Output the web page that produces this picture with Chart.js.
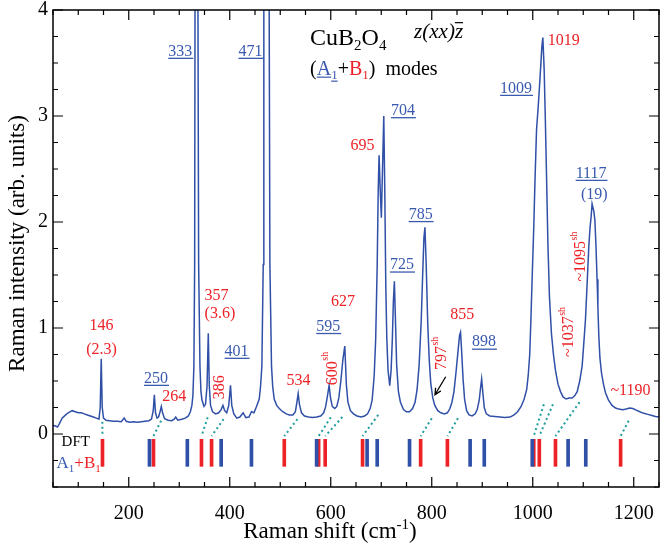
<!DOCTYPE html>
<html>
<head>
<meta charset="utf-8">
<script src="https://cdn.jsdelivr.net/npm/chart.js@4.4.1/dist/chart.umd.min.js"></script>
<style>
    body { margin: 0; background: #fff; }
    #wrap { width: 660px; height: 550px; }
</style>
</head>
<body>
<div id="wrap"><canvas id="ramanChart"></canvas></div>
<script>
// CuB2O4 Raman spectrum, z(xx)z geometry, with DFT mode positions

const ramanShift = [
    50, 55, 59, 63, 68, 75, 80, 88, 94, 100, 106, 112, 118, 124, 130, 136, 141, 143.5, 145.5, 147.5,
    150, 155, 162, 170, 178, 185, 191, 195, 202, 210, 218, 225, 232, 240, 245, 248.5, 250.7, 253, 256, 259,
    262, 264.5, 267, 271, 278, 285, 290, 293, 297, 305, 312, 318, 322, 325, 327, 329, 330.5, 331.5, 334, 336.5,
    338.4, 341, 343, 345, 349, 352, 355, 357.5, 359.5, 362, 366, 372, 378, 383, 386.5, 390, 394, 398, 401.5, 404,
    408, 414, 420, 426.5, 432, 438, 443, 448, 453, 458.4, 461, 463.6, 466.3, 467.5, 472.5, 477.5, 479.5, 482.7, 485, 488,
    493, 498, 505, 512, 518, 525, 530, 533, 535.5, 538, 542, 548, 556, 564, 572, 580, 586, 590, 593.5, 596.8,
    599.5, 603, 608, 612, 616, 620, 624, 627.8, 631, 634, 639, 645, 652, 660, 667, 673, 678, 682, 686, 689,
    692, 694, 695.7, 698, 700.2, 702.5, 705, 707, 709, 711, 713.5, 716.8, 719.5, 722, 724, 726, 728, 730.5, 734, 738,
    744, 750, 756, 762, 767, 771, 775, 779, 782, 784.5, 786.5, 789, 792, 795, 798, 802, 806, 812, 818, 825,
    831, 836, 840, 844, 848, 852, 855, 857, 859, 862, 865, 869, 874, 880, 886, 890, 894, 897, 898.8, 901,
    904, 908, 915, 925, 935, 945, 955, 963, 970, 977, 983, 988, 991, 994, 996.5, 999, 1002, 1004.5, 1007.5, 1010.7,
    1013, 1015.4, 1018, 1020, 1022.6, 1025, 1027, 1030, 1033, 1037, 1041, 1045, 1050, 1055, 1060, 1066, 1072, 1078, 1083, 1088,
    1093, 1097.8, 1101, 1104.4, 1108, 1111, 1113.5, 1115.6, 1117.5, 1119, 1121, 1123, 1125, 1127.4, 1129, 1130.8, 1133, 1136, 1140, 1144,
    1150, 1157, 1164, 1170, 1178, 1185, 1192, 1198, 1205, 1212, 1220, 1228, 1236, 1243, 1250
];
const intensity = [
    0.08, 0.075, 0.065, 0.1, 0.15, 0.18, 0.2, 0.22, 0.21, 0.2, 0.2, 0.19, 0.18, 0.17, 0.16, 0.15, 0.14, 0.25, 0.71, 0.25,
    0.15, 0.13, 0.125, 0.12, 0.12, 0.115, 0.15, 0.12, 0.11, 0.115, 0.11, 0.115, 0.12, 0.125, 0.14, 0.22, 0.37, 0.2, 0.15, 0.16,
    0.21, 0.26, 0.2, 0.145, 0.13, 0.125, 0.14, 0.16, 0.13, 0.14, 0.15, 0.17, 0.21, 0.27, 0.36, 0.64, 1.6, 5, 9, 5,
    1.6, 0.64, 0.4, 0.32, 0.26, 0.28, 0.45, 0.95, 0.45, 0.27, 0.21, 0.19, 0.2, 0.23, 0.27, 0.22, 0.2, 0.27, 0.46, 0.27,
    0.19, 0.15, 0.16, 0.2, 0.155, 0.16, 0.21, 0.2, 0.26, 0.33, 0.45, 0.64, 1.6, 5, 9, 5, 1.6, 0.64, 0.45, 0.33,
    0.27, 0.24, 0.21, 0.19, 0.18, 0.18, 0.21, 0.3, 0.38, 0.28, 0.2, 0.17, 0.16, 0.155, 0.16, 0.17, 0.2, 0.26, 0.36, 0.46,
    0.34, 0.26, 0.24, 0.26, 0.34, 0.5, 0.7, 0.83, 0.46, 0.3, 0.22, 0.19, 0.17, 0.16, 0.17, 0.19, 0.24, 0.32, 0.55, 0.9,
    1.6, 2.3, 2.63, 2.3, 2.04, 2.5, 3.0, 2.3, 1.4, 0.9, 0.6, 0.455, 0.6, 0.9, 1.25, 1.44, 1.1, 0.65, 0.4, 0.3,
    0.23, 0.21, 0.21, 0.24, 0.3, 0.42, 0.65, 1.05, 1.5, 1.85, 1.95, 1.6, 1.05, 0.7, 0.48, 0.34, 0.27, 0.22, 0.2, 0.19,
    0.2, 0.24, 0.3, 0.4, 0.58, 0.78, 0.93, 0.96, 0.8, 0.52, 0.33, 0.22, 0.18, 0.17, 0.19, 0.23, 0.32, 0.45, 0.52, 0.4,
    0.25, 0.19, 0.17, 0.165, 0.16, 0.155, 0.16, 0.18, 0.21, 0.26, 0.33, 0.42, 0.55, 0.75, 1.1, 1.5, 1.95, 2.4, 2.87, 3.08,
    3.25, 3.44, 3.65, 3.74, 3.44, 2.95, 2.5, 1.8, 1.3, 0.95, 0.75, 0.6, 0.47, 0.4, 0.35, 0.33, 0.34, 0.34, 0.36, 0.4,
    0.5, 0.64, 0.85, 1.08, 1.45, 1.77, 1.95, 2.05, 2.17, 2.17, 2.1, 2.02, 1.8, 1.46, 1.2, 0.93, 0.72, 0.58, 0.47, 0.39,
    0.32, 0.27, 0.245, 0.235, 0.23, 0.235, 0.245, 0.24, 0.225, 0.21, 0.195, 0.185, 0.175, 0.165, 0.16
];

// DFT-calculated mode positions (cm-1)
const dftA1 = [241, 316, 383, 443, 572, 672, 692, 756, 876, 904, 999, 1070, 1105];
const dftB1 = [148, 249, 344, 364, 508, 576, 589, 663, 778, 831, 1002, 1013, 1045, 1174];
const dftBarRange = [-0.305, -0.05];

// dotted links: observed line -> DFT mode
const linkObserved = [147.7, 264, 356.4, 387.8, 534, 600, 623, 694, 800, 852, 1022, 1040, 1092.6, 1190];
const linkTop = [0.115, 0.125, 0.157, 0.14, 0.14, 0.157, 0.16, 0.18, 0.148, 0.148, 0.28, 0.28, 0.3, 0.125];
const linkDft = [148, 249, 344, 364, 508, 576, 589, 663, 778, 831, 1002, 1013, 1045, 1174];
const linkBottom = -0.02;

const xTickLabels = [200, 400, 600, 800, 1000, 1200];
const yTickLabels = [0, 1, 2, 3, 4];

const SERIF = "'Liberation Serif', 'Times New Roman', serif";
const CURVE_BLUE = '#3050a8';
const LABEL_BLUE = '#3a5ab0';
const RED = '#ec2227';
const TEAL = '#1f9c9c';

// peak labels, placed at (cm-1, intensity)
const peakLabels = [
    { text: '146', x: 146, y: 1.02, color: RED },
    { text: '(2.3)', x: 146, y: 0.79, color: RED },
    { text: '250', x: 254, y: 0.525, color: LABEL_BLUE, underline: true },
    { text: '264', x: 290, y: 0.35, color: RED },
    { text: '333', x: 302, y: 3.61, color: LABEL_BLUE, underline: true },
    { text: '471', x: 441, y: 3.61, color: LABEL_BLUE, underline: true },
    { text: '357', x: 374, y: 1.30, color: RED },
    { text: '(3.6)', x: 380.5, y: 1.13, color: RED },
    { text: '386', x: 381, y: 0.44, color: RED, rotate: true },
    { text: '401', x: 413.5, y: 0.78, color: LABEL_BLUE, underline: true },
    { text: '534', x: 536, y: 0.50, color: RED },
    { text: '595', x: 595, y: 1.014, color: LABEL_BLUE, underline: true },
    { text: '600', x: 603.3, y: 0.574, color: RED, rotate: true, sup: 'sh' },
    { text: '627', x: 624.5, y: 1.25, color: RED },
    { text: '695', x: 662.7, y: 2.72, color: RED },
    { text: '704', x: 743, y: 3.05, color: LABEL_BLUE, underline: true },
    { text: '725', x: 741, y: 1.594, color: LABEL_BLUE, underline: true },
    { text: '785', x: 778, y: 2.07, color: LABEL_BLUE, underline: true },
    { text: '797', x: 820.8, y: 0.716, color: RED, rotate: true, sup: 'sh' },
    { text: '855', x: 860.5, y: 1.123, color: RED },
    { text: '898', x: 903.3, y: 0.866, color: LABEL_BLUE, underline: true },
    { text: '1009', x: 967, y: 3.26, color: LABEL_BLUE, underline: true },
    { text: '1019', x: 1061.5, y: 3.713, color: RED },
    { text: '~1037', x: 1071.4, y: 0.918, color: RED, rotate: true, sup: 'sh' },
    { text: '~1095', x: 1095, y: 1.63, color: RED, rotate: true, sup: 'sh' },
    { text: '1117', x: 1115.5, y: 2.458, color: LABEL_BLUE, underline: true },
    { text: '(19)', x: 1122, y: 2.26, color: LABEL_BLUE },
    { text: '~1190', x: 1193.4, y: 0.408, color: RED },
    { text: 'DFT', x: 95, y: -0.078, color: '#000', size: 15 }
];

function drawRuns(ctx, x, y, runs) {
    let cx = x;
    ctx.textAlign = 'left';
    ctx.textBaseline = 'alphabetic';
    runs.forEach(r => {
        const dy = r.dy || 0;
        ctx.font = `${r.italic ? 'italic ' : ''}${r.size}px ${SERIF}`;
        ctx.fillStyle = r.color || '#000';
        ctx.fillText(r.t, cx, y + dy);
        const w = ctx.measureText(r.t).width;
        if (r.under || r.over) {
            ctx.strokeStyle = r.color || '#000';
            ctx.lineWidth = 1.2;
            const ly = r.under ? y + dy + 2.5 : y + dy - r.size * 0.72;
            ctx.beginPath();
            ctx.moveTo(cx, ly);
            ctx.lineTo(cx + w, ly);
            ctx.stroke();
        }
        cx += w;
    });
    return cx - x;
}

function runsWidth(ctx, runs) {
    return runs.reduce((sum, r) => {
        ctx.font = `${r.italic ? 'italic ' : ''}${r.size}px ${SERIF}`;
        return sum + ctx.measureText(r.t).width;
    }, 0);
}

function drawLabel(ctx, px, py, lab) {
    const size = lab.size || 16;
    ctx.save();
    ctx.translate(px, py);
    if (lab.rotate) ctx.rotate(-Math.PI / 2);
    ctx.font = `${size}px ${SERIF}`;
    ctx.fillStyle = lab.color;
    ctx.textAlign = 'center';
    ctx.textBaseline = 'middle';
    ctx.fillText(lab.text, 0, 0);
    const w = ctx.measureText(lab.text).width;
    if (lab.underline) {
        ctx.strokeStyle = lab.color;
        ctx.lineWidth = 1.3;
        ctx.beginPath();
        ctx.moveTo(-w / 2, 7);
        ctx.lineTo(w / 2 + 1, 7);
        ctx.stroke();
    }
    if (lab.sup) {
        ctx.font = `${Math.round(size * 0.6)}px ${SERIF}`;
        ctx.textAlign = 'left';
        ctx.fillText(lab.sup, w / 2 + 0.5, -size * 0.42);
    }
    ctx.restore();
}

const decorPlugin = {
    id: 'decor',
    afterDraw(chart) {
        const ctx = chart.ctx;
        const area = chart.chartArea;
        const xs = chart.scales.x;
        const ys = chart.scales.y;

        ctx.save();
        // frame
        ctx.strokeStyle = '#000';
        ctx.lineWidth = 1.5;
        ctx.strokeRect(area.left, area.top, area.right - area.left, area.bottom - area.top);

        // inward ticks on all four sides
        ctx.lineWidth = 1.2;
        ctx.beginPath();
        xs.ticks.forEach(t => {
            const p = xs.getPixelForValue(t.value);
            const len = t.value % 200 === 0 ? 10 : 5;
            ctx.moveTo(p, area.bottom);
            ctx.lineTo(p, area.bottom - len);
            ctx.moveTo(p, area.top);
            ctx.lineTo(p, area.top + len);
        });
        ys.ticks.forEach(t => {
            const p = ys.getPixelForValue(t.value);
            const len = Number.isInteger(t.value) ? 10 : 5;
            ctx.moveTo(area.left, p);
            ctx.lineTo(area.left + len, p);
            ctx.moveTo(area.right, p);
            ctx.lineTo(area.right - len, p);
        });
        ctx.stroke();

        // peak labels
        peakLabels.forEach(lab => {
            drawLabel(ctx, xs.getPixelForValue(lab.x), ys.getPixelForValue(lab.y), lab);
        });

        // arrow to the 797 shoulder
        const ax0 = xs.getPixelForValue(827.6), ay0 = ys.getPixelForValue(0.54);
        const ax1 = xs.getPixelForValue(806.4), ay1 = ys.getPixelForValue(0.37);
        const ang = Math.atan2(ay1 - ay0, ax1 - ax0);
        ctx.strokeStyle = '#000';
        ctx.lineWidth = 1.3;
        ctx.beginPath();
        ctx.moveTo(ax0, ay0);
        ctx.lineTo(ax1, ay1);
        ctx.moveTo(ax1 - 7 * Math.cos(ang - 0.45), ay1 - 7 * Math.sin(ang - 0.45));
        ctx.lineTo(ax1, ay1);
        ctx.lineTo(ax1 - 7 * Math.cos(ang + 0.45), ay1 - 7 * Math.sin(ang + 0.45));
        ctx.stroke();

        // title block
        drawRuns(ctx, xs.getPixelForValue(559), ys.getPixelForValue(3.672), [
            { t: 'CuB', size: 24 },
            { t: '2', size: 15, dy: 5 },
            { t: 'O', size: 24 },
            { t: '4', size: 15, dy: 5 }
        ]);
        drawRuns(ctx, xs.getPixelForValue(765), ys.getPixelForValue(3.738), [
            { t: 'z(xx)', size: 21, italic: true },
            { t: 'z', size: 21, italic: true, over: true }
        ]);
        drawRuns(ctx, xs.getPixelForValue(559), ys.getPixelForValue(3.39), [
            { t: '(', size: 20 },
            { t: 'A', size: 20, color: LABEL_BLUE, under: true },
            { t: '1', size: 13, dy: 4, color: LABEL_BLUE, under: true },
            { t: '+', size: 20 },
            { t: 'B', size: 20, color: RED },
            { t: '1', size: 13, dy: 4, color: RED },
            { t: ')  modes', size: 20 }
        ]);

        // DFT legend
        drawRuns(ctx, xs.getPixelForValue(57), ys.getPixelForValue(-0.32), [
            { t: 'A', size: 17, color: LABEL_BLUE },
            { t: '1', size: 11, dy: 4, color: LABEL_BLUE },
            { t: '+', size: 17, color: RED },
            { t: 'B', size: 17, color: RED },
            { t: '1', size: 11, dy: 4, color: RED }
        ]);

        // axis titles
        const xTitle = [
            { t: 'Raman shift (cm', size: 23 },
            { t: '-1', size: 15, dy: -9 },
            { t: ')', size: 23 }
        ];
        drawRuns(ctx, 330 - runsWidth(ctx, xTitle) / 2, 538, xTitle);

        ctx.translate(17.5, 243.5);
        ctx.rotate(-Math.PI / 2);
        ctx.font = `23px ${SERIF}`;
        ctx.fillStyle = '#000';
        ctx.textAlign = 'center';
        ctx.textBaseline = 'middle';
        ctx.fillText('Raman intensity (arb. units)', 0, 0);
        ctx.restore();
    }
};

const linkPoints = [];
linkObserved.forEach((xo, i) => {
    linkPoints.push({ x: xo, y: linkTop[i] });
    linkPoints.push({ x: linkDft[i], y: linkBottom });
    linkPoints.push({ x: linkDft[i], y: null });
});

const tickFont = { family: SERIF, size: 20, lineHeight: 1 };

new Chart(document.getElementById('ramanChart'), {
    type: 'line',
    data: {
        datasets: [
            {
                type: 'line',
                label: 'Spectrum',
                data: ramanShift.map((x, i) => ({ x, y: intensity[i] })),
                borderColor: CURVE_BLUE,
                borderWidth: 1.5,
                pointRadius: 0,
                tension: 0,
                clip: 0,
                order: 1
            },
            {
                type: 'line',
                label: 'links',
                data: linkPoints,
                borderColor: TEAL,
                borderWidth: 2,
                borderDash: [2, 3],
                pointRadius: 0,
                spanGaps: false,
                clip: 0,
                order: 2
            },
            {
                type: 'bar',
                label: 'DFT A1',
                data: dftA1.map(x => ({ x, y: dftBarRange })),
                backgroundColor: CURVE_BLUE,
                barThickness: 3,
                grouped: false,
                order: 3
            },
            {
                type: 'bar',
                label: 'DFT B1',
                data: dftB1.map(x => ({ x, y: dftBarRange })),
                backgroundColor: RED,
                barThickness: 3,
                grouped: false,
                order: 3
            }
        ]
    },
    options: {
        responsive: true,
        maintainAspectRatio: false,
        animation: false,
        layout: { padding: { top: 10, right: 1, left: 0, bottom: 0 } },
        plugins: {
            legend: { display: false },
            tooltip: { enabled: false }
        },
        scales: {
            x: {
                type: 'linear',
                min: 50,
                max: 1250,
                offset: false,
                grid: { display: false, drawTicks: false },
                border: { display: false },
                ticks: {
                    stepSize: 50,
                    autoSkip: false,
                    maxRotation: 0,
                    padding: 17,
                    color: '#000',
                    font: tickFont,
                    callback: v => xTickLabels.includes(v) ? String(v) : ''
                },
                afterFit: scale => {
                    scale.height = 63;
                    scale.paddingLeft = 0;
                    scale.paddingRight = 0;
                }
            },
            y: {
                type: 'linear',
                min: -0.5,
                max: 4,
                grid: { display: false, drawTicks: false },
                border: { display: false },
                ticks: {
                    stepSize: 0.25,
                    autoSkip: false,
                    padding: 5,
                    color: '#000',
                    font: tickFont,
                    callback: v => yTickLabels.includes(v) ? String(v) : ''
                },
                afterFit: scale => {
                    scale.width = 53;
                    scale.paddingTop = 0;
                    scale.paddingBottom = 0;
                }
            }
        }
    },
    plugins: [decorPlugin]
});
</script>
</body>
</html>
